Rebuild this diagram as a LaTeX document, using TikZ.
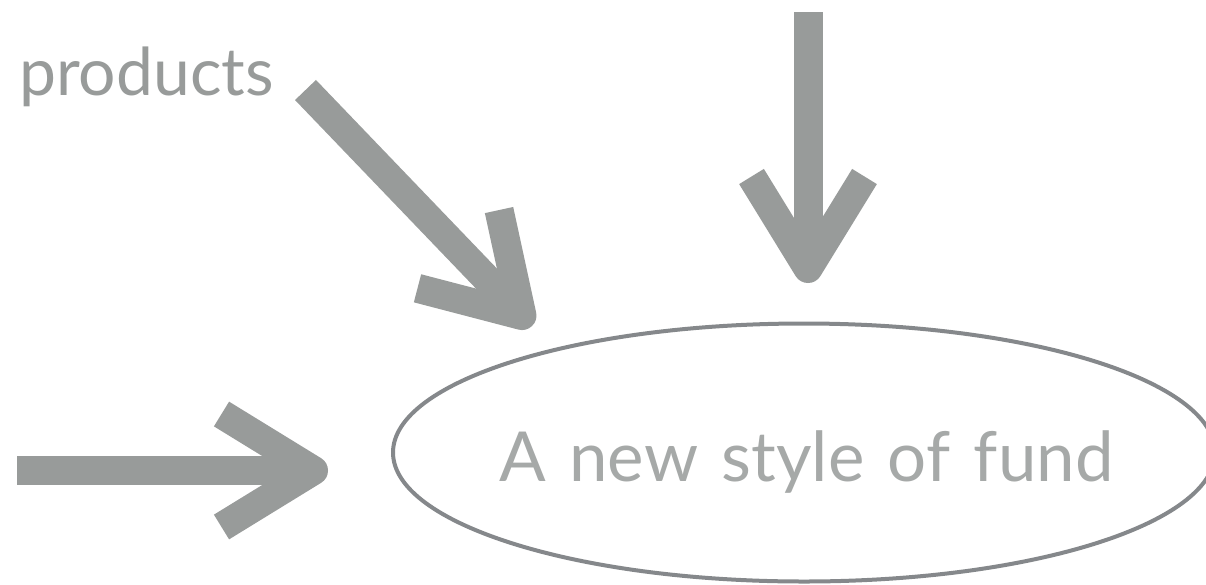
\documentclass[tikz,border=0pt]{standalone}
\usepackage{fontspec}
\setmainfont{Lato}
\newfontfamily\fundfont{Lato}[WordSpace=1.32]
\usetikzlibrary{positioning,shapes.geometric,arrows.meta}
\definecolor{fgrey}{HTML}{989B9A}
\definecolor{flight}{HTML}{A6A9A8}
\definecolor{fline}{HTML}{85888B}
\tikzset{
  fund/.style ={ellipse, draw=fline, line width=4pt, text=flight,
                minimum width=822pt, minimum height=258pt, inner sep=0pt,
                text height=57pt, text depth=0pt,
                font=\fundfont\fontsize{69}{80}\selectfont},
  lbl/.style  ={text=fgrey, font=\fontsize{66}{76}\selectfont, inner sep=0pt},
  fl/.style   ={draw=fgrey, line width=29pt,
                -{Straight Barb[length=92pt, width=113pt, line width=29pt,
                  line cap=butt, line join=round]}}
}

\begin{document}
\begin{tikzpicture}[x=1pt, y=-1pt]
  \useasboundingbox (0,0) rectangle (1206,584);
  \node[fund] (fund) at (804,452.5) {\makebox[0pt]{\hspace{5pt}A new style of fund}};
  \node[lbl, anchor=base west] (prod) at (19,95) {products};

  \coordinate (in1) at (305.5,90);  \coordinate (tip1) at (532,326);
  \coordinate (in2) at (808,12);    \coordinate (tip2) at (808,283);
  \coordinate (in3) at (17,470.5);  \coordinate (tip3) at (328,470.5);

  \draw[fl] (in1) -- (tip1);
  \draw[fl] (in2) -- (tip2);
  \draw[fl] (in3) -- (tip3);
\end{tikzpicture}
\end{document}
